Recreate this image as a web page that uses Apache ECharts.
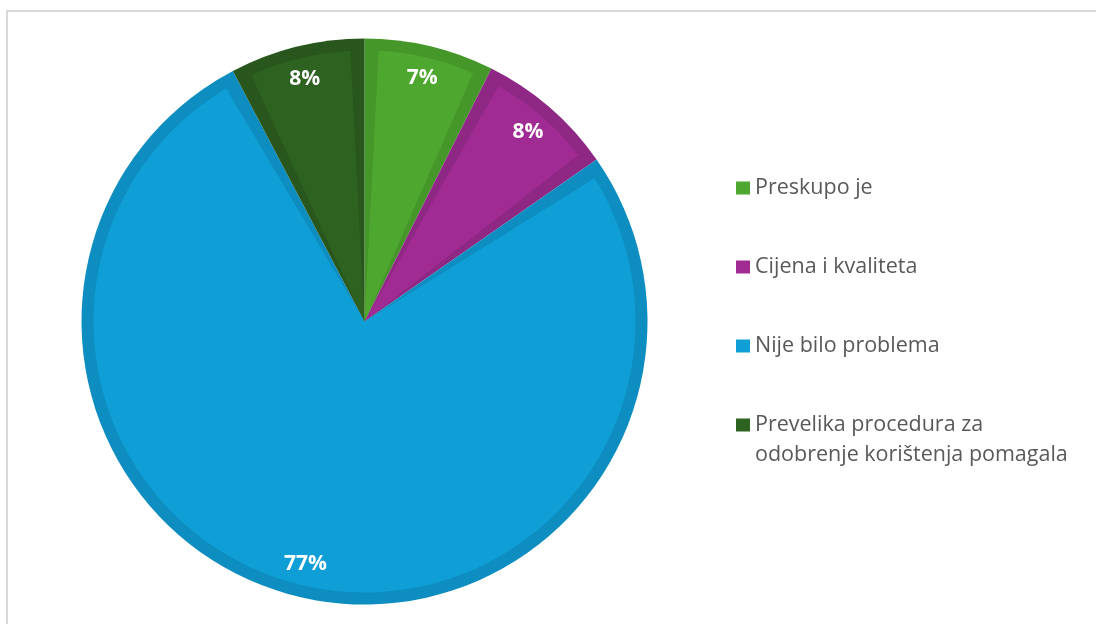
<!DOCTYPE html>
<html>
<head>
<meta charset="utf-8">
<script src="https://cdn.jsdelivr.net/npm/echarts@6/dist/echarts.min.js"></script>
<style>
  html, body { margin: 0; padding: 0; background: #ffffff; }
  #chart { width: 1096px; height: 624px; }
</style>
</head>
<body>
<div id="chart"></div>
<script>
// ---- data ----
const categories = [
  'Preskupo je',
  'Cijena i kvaliteta',
  'Nije bilo problema',
  'Prevelika procedura za odobrenje korištenja pomagala'
];
const values = [7.4, 7.9, 77.0, 7.7];

// ---- styles ----
const fillColors = ['#4EA72E', '#A02B93', '#0F9ED5', '#2E6220'];
const edgeColors = ['#46972A', '#8F2784', '#0E8DC0', '#28561C'];

const center = [364.5, 321.5];
const fontFamily = '"Open Sans", "DejaVu Sans", sans-serif';

function makeData(colors) {
  return categories.map((c, i) => ({
    name: c,
    value: values[i],
    itemStyle: { color: colors ? colors[i] : 'rgba(0,0,0,0)' }
  }));
}

const chart = echarts.init(document.getElementById('chart'), null, { renderer: 'canvas' });

const legendText = { color: '#595959', fontSize: 21.5, lineHeight: 30, fontFamily: fontFamily };

chart.setOption({
  animation: false,
  backgroundColor: '#ffffff',
  graphic: [{
    type: 'rect',
    z: -10,
    silent: true,
    shape: { x: 7, y: 11, width: 1200, height: 800 },
    style: { fill: 'none', stroke: '#d9d9d9', lineWidth: 2 }
  }],
  legend: [{
    orient: 'vertical',
    left: 736,
    top: 173,
    padding: 0,
    itemWidth: 14,
    itemHeight: 13,
    itemGap: 49,
    icon: 'rect',
    selectedMode: false,
    textStyle: legendText,
    data: categories.slice(0, 3).map((c, i) => ({ name: c, itemStyle: { color: fillColors[i] } }))
  }, {
    orient: 'vertical',
    left: 736,
    top: 380,
    padding: 0,
    itemWidth: 14,
    itemHeight: 13,
    icon: 'rect',
    selectedMode: false,
    // blank first line keeps the marker beside the first text line
    formatter: function (name) { return '\n' + name.replace(' za ', ' za\n'); },
    textStyle: legendText,
    data: [{ name: categories[3], itemStyle: { color: fillColors[3] } }]
  }],
  series: [{
    type: 'pie',
    name: 'fill',
    center: center,
    radius: 271,
    startAngle: 90,
    clockwise: true,
    padAngle: 6,
    z: 3,
    silent: true,
    label: { show: false },
    labelLine: { show: false },
    emphasis: { disabled: true },
    data: makeData(fillColors)
  }, {
    type: 'pie',
    name: 'edge',
    center: center,
    radius: 283,
    startAngle: 90,
    clockwise: true,
    z: 2,
    silent: true,
    label: { show: false },
    labelLine: { show: false },
    emphasis: { disabled: true },
    data: makeData(edgeColors)
  }, {
    type: 'pie',
    name: 'labels',
    center: center,
    radius: [211, 283],
    startAngle: 90,
    clockwise: true,
    z: 4,
    silent: true,
    labelLine: { show: false },
    emphasis: { disabled: true },
    label: {
      show: true,
      position: 'inside',
      color: '#ffffff',
      fontSize: 21,
      fontWeight: 'bold',
      fontFamily: fontFamily,
      formatter: function (p) { return Math.round(p.value) + '%'; }
    },
    data: makeData(null)
  }]
});
</script>
</body>
</html>
